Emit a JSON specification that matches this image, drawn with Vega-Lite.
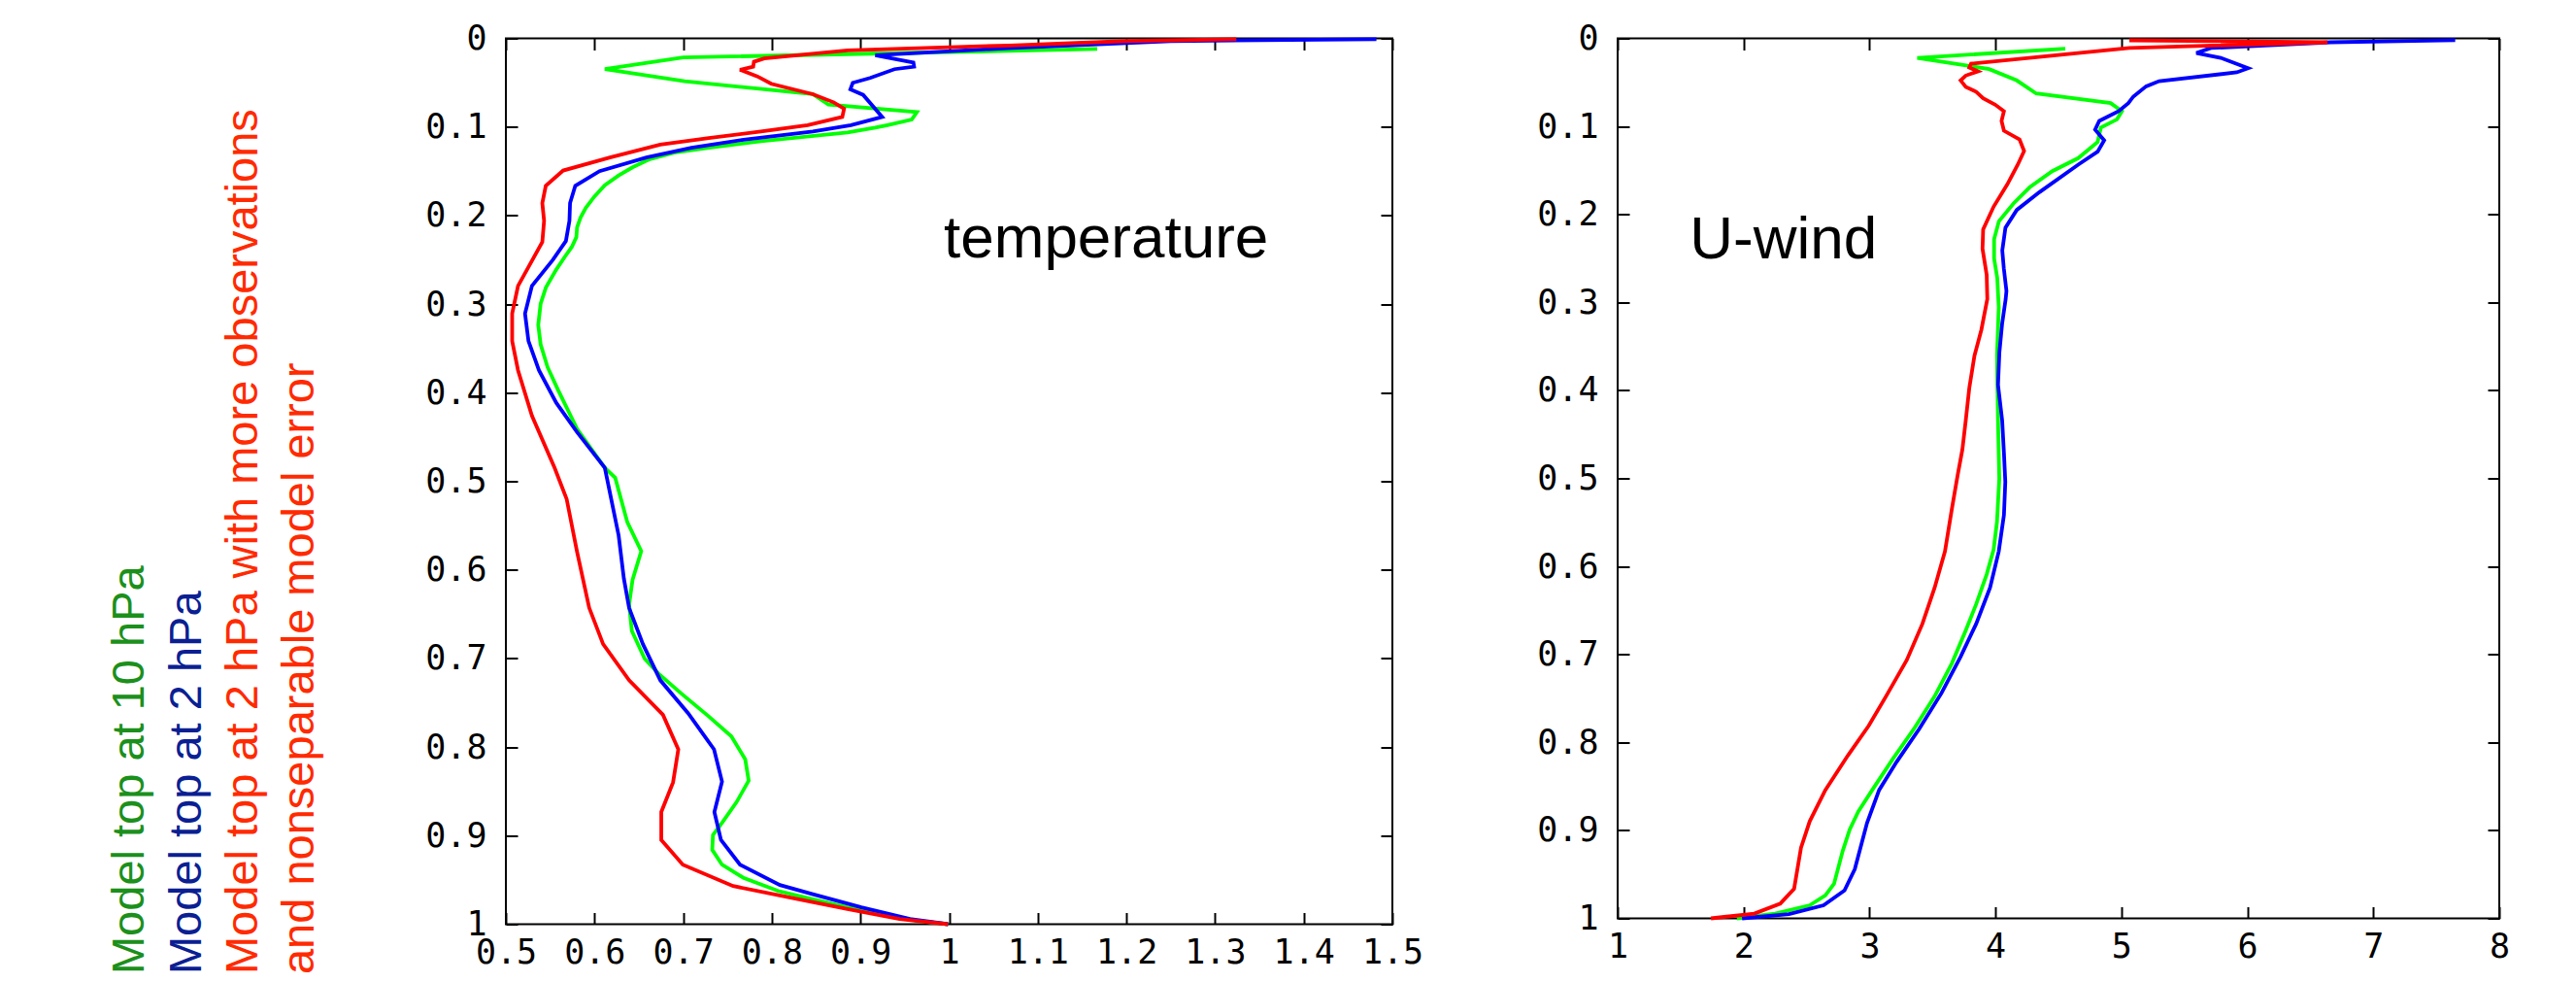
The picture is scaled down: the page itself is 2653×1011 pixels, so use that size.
{
  "$schema": "https://vega.github.io/schema/vega-lite/v6.json",
  "autosize": {"type": "none"},
  "padding": {"left": 521, "top": 39.5, "right": 2132, "bottom": 971.5},
  "bounds": "flush",
  "spacing": 232,
  "background": "white",
  "config": {
    "view": {"stroke": "black", "strokeWidth": 2},
    "axis": {
      "domain": false, "grid": false, "ticks": true, "tickSize": -12, "tickWidth": 2, "tickColor": "black",
      "labelFont": "DejaVu Sans Mono", "labelFontSize": 35, "labelColor": "black", "title": null,
      "labelFlush": false, "labelOverlap": false, "labelBound": false
    },
    "axisX": {"labelPadding": 52, "labelBaseline": "alphabetic", "labelDx": 11},
    "axisY": {"labelPadding": 32, "labelAlign": "right", "labelBaseline": "middle", "labelDy": 2}
  },
  "datasets": {
    "temp": [
      {"series": "10hPa", "v": 1.167, "p": 0.012}, {"series": "10hPa", "v": 0.70, "p": 0.0216}, {"series": "10hPa", "v": 0.6116, "p": 0.0348}, {"series": "10hPa", "v": 0.7016, "p": 0.0484}, {"series": "10hPa", "v": 0.8463, "p": 0.063}, {"series": "10hPa", "v": 0.8639, "p": 0.0748}, {"series": "10hPa", "v": 0.9637, "p": 0.0832}, {"series": "10hPa", "v": 0.9578, "p": 0.0917}, {"series": "10hPa", "v": 0.9304, "p": 0.0979}, {"series": "10hPa", "v": 0.9167, "p": 0.1008}, {"series": "10hPa", "v": 0.8854, "p": 0.1063}, {"series": "10hPa", "v": 0.7876, "p": 0.1162}, {"series": "10hPa", "v": 0.7289, "p": 0.1235}, {"series": "10hPa", "v": 0.6898, "p": 0.1291}, {"series": "10hPa", "v": 0.6624, "p": 0.1364}, {"series": "10hPa", "v": 0.6429, "p": 0.1456}, {"series": "10hPa", "v": 0.6272, "p": 0.1547}, {"series": "10hPa", "v": 0.6116, "p": 0.1657}, {"series": "10hPa", "v": 0.5998, "p": 0.1786}, {"series": "10hPa", "v": 0.5901, "p": 0.1914}, {"series": "10hPa", "v": 0.5842, "p": 0.2024}, {"series": "10hPa", "v": 0.5803, "p": 0.2134}, {"series": "10hPa", "v": 0.5795, "p": 0.2244}, {"series": "10hPa", "v": 0.5744, "p": 0.2354}, {"series": "10hPa", "v": 0.5666, "p": 0.2464}, {"series": "10hPa", "v": 0.5568, "p": 0.2611}, {"series": "10hPa", "v": 0.5451, "p": 0.2813}, {"series": "10hPa", "v": 0.5392, "p": 0.2996}, {"series": "10hPa", "v": 0.5365, "p": 0.3234}, {"series": "10hPa", "v": 0.5392, "p": 0.3454}, {"series": "10hPa", "v": 0.547, "p": 0.3711}, {"series": "10hPa", "v": 0.5588, "p": 0.3968}, {"series": "10hPa", "v": 0.5803, "p": 0.4408}, {"series": "10hPa", "v": 0.6116, "p": 0.4847}, {"series": "10hPa", "v": 0.6233, "p": 0.496}, {"series": "10hPa", "v": 0.637, "p": 0.5462}, {"series": "10hPa", "v": 0.6527, "p": 0.5789}, {"series": "10hPa", "v": 0.6429, "p": 0.6112}, {"series": "10hPa", "v": 0.639, "p": 0.6391}, {"series": "10hPa", "v": 0.6421, "p": 0.6689}, {"series": "10hPa", "v": 0.6566, "p": 0.7004}, {"series": "10hPa", "v": 0.6723, "p": 0.7172}, {"series": "10hPa", "v": 0.6977, "p": 0.7395}, {"series": "10hPa", "v": 0.7289, "p": 0.7655}, {"series": "10hPa", "v": 0.7543, "p": 0.7878}, {"series": "10hPa", "v": 0.77, "p": 0.8138}, {"series": "10hPa", "v": 0.7739, "p": 0.838}, {"series": "10hPa", "v": 0.7602, "p": 0.8622}, {"series": "10hPa", "v": 0.7446, "p": 0.8844}, {"series": "10hPa", "v": 0.7336, "p": 0.8993}, {"series": "10hPa", "v": 0.7328, "p": 0.916}, {"series": "10hPa", "v": 0.7438, "p": 0.9328}, {"series": "10hPa", "v": 0.768, "p": 0.9476}, {"series": "10hPa", "v": 0.8072, "p": 0.9625}, {"series": "10hPa", "v": 0.8463, "p": 0.9718}, {"series": "10hPa", "v": 0.8854, "p": 0.981}, {"series": "10hPa", "v": 0.9245, "p": 0.9884}, {"series": "10hPa", "v": 0.9637, "p": 0.996}, {"series": "10hPa", "v": 0.9988, "p": 1.0},
      {"series": "2hPa", "v": 1.482, "p": 0.001}, {"series": "2hPa", "v": 1.25, "p": 0.003}, {"series": "2hPa", "v": 1.068, "p": 0.011}, {"series": "2hPa", "v": 0.9167, "p": 0.019}, {"series": "2hPa", "v": 0.9597, "p": 0.0272}, {"series": "2hPa", "v": 0.9605, "p": 0.0319}, {"series": "2hPa", "v": 0.9383, "p": 0.0348}, {"series": "2hPa", "v": 0.9109, "p": 0.0447}, {"series": "2hPa", "v": 0.8913, "p": 0.0502}, {"series": "2hPa", "v": 0.8886, "p": 0.0575}, {"series": "2hPa", "v": 0.903, "p": 0.0638}, {"series": "2hPa", "v": 0.9245, "p": 0.0887}, {"series": "2hPa", "v": 0.8893, "p": 0.0979}, {"series": "2hPa", "v": 0.8463, "p": 0.1052}, {"series": "2hPa", "v": 0.7681, "p": 0.1144}, {"series": "2hPa", "v": 0.7094, "p": 0.1235}, {"series": "2hPa", "v": 0.6585, "p": 0.1345}, {"series": "2hPa", "v": 0.6057, "p": 0.1499}, {"series": "2hPa", "v": 0.5783, "p": 0.1664}, {"series": "2hPa", "v": 0.5724, "p": 0.1859}, {"series": "2hPa", "v": 0.5717, "p": 0.206}, {"series": "2hPa", "v": 0.5677, "p": 0.2288}, {"series": "2hPa", "v": 0.5529, "p": 0.2501}, {"series": "2hPa", "v": 0.5294, "p": 0.2794}, {"series": "2hPa", "v": 0.5216, "p": 0.3106}, {"series": "2hPa", "v": 0.5255, "p": 0.3417}, {"series": "2hPa", "v": 0.5373, "p": 0.3747}, {"series": "2hPa", "v": 0.5568, "p": 0.4114}, {"series": "2hPa", "v": 0.5803, "p": 0.4444}, {"series": "2hPa", "v": 0.6116, "p": 0.4847}, {"series": "2hPa", "v": 0.6272, "p": 0.5611}, {"series": "2hPa", "v": 0.6331, "p": 0.6098}, {"series": "2hPa", "v": 0.639, "p": 0.6429}, {"series": "2hPa", "v": 0.6546, "p": 0.6838}, {"series": "2hPa", "v": 0.6742, "p": 0.7246}, {"series": "2hPa", "v": 0.7055, "p": 0.7618}, {"series": "2hPa", "v": 0.7348, "p": 0.8026}, {"series": "2hPa", "v": 0.7438, "p": 0.839}, {"series": "2hPa", "v": 0.7352, "p": 0.8733}, {"series": "2hPa", "v": 0.7426, "p": 0.9048}, {"series": "2hPa", "v": 0.7641, "p": 0.9328}, {"series": "2hPa", "v": 0.8091, "p": 0.9558}, {"series": "2hPa", "v": 0.8463, "p": 0.9662}, {"series": "2hPa", "v": 0.901, "p": 0.981}, {"series": "2hPa", "v": 0.9558, "p": 0.9941}, {"series": "2hPa", "v": 0.9988, "p": 1.0},
      {"series": "2hPa_obs", "v": 1.324, "p": 0.001}, {"series": "2hPa_obs", "v": 1.2, "p": 0.003}, {"series": "2hPa_obs", "v": 1.068, "p": 0.008}, {"series": "2hPa_obs", "v": 0.8854, "p": 0.0135}, {"series": "2hPa_obs", "v": 0.7915, "p": 0.0227}, {"series": "2hPa_obs", "v": 0.7798, "p": 0.0264}, {"series": "2hPa_obs", "v": 0.779, "p": 0.0319}, {"series": "2hPa_obs", "v": 0.7641, "p": 0.0355}, {"series": "2hPa_obs", "v": 0.7837, "p": 0.0429}, {"series": "2hPa_obs", "v": 0.7993, "p": 0.0513}, {"series": "2hPa_obs", "v": 0.8463, "p": 0.063}, {"series": "2hPa_obs", "v": 0.8698, "p": 0.0722}, {"series": "2hPa_obs", "v": 0.8815, "p": 0.0795}, {"series": "2hPa_obs", "v": 0.8795, "p": 0.0887}, {"series": "2hPa_obs", "v": 0.8404, "p": 0.0979}, {"series": "2hPa_obs", "v": 0.7876, "p": 0.1052}, {"series": "2hPa_obs", "v": 0.7289, "p": 0.1125}, {"series": "2hPa_obs", "v": 0.6741, "p": 0.1199}, {"series": "2hPa_obs", "v": 0.6174, "p": 0.1345}, {"series": "2hPa_obs", "v": 0.5646, "p": 0.1492}, {"series": "2hPa_obs", "v": 0.545, "p": 0.1664}, {"series": "2hPa_obs", "v": 0.5411, "p": 0.1859}, {"series": "2hPa_obs", "v": 0.5431, "p": 0.206}, {"series": "2hPa_obs", "v": 0.5411, "p": 0.2299}, {"series": "2hPa_obs", "v": 0.5137, "p": 0.2794}, {"series": "2hPa_obs", "v": 0.5071, "p": 0.3106}, {"series": "2hPa_obs", "v": 0.5071, "p": 0.3417}, {"series": "2hPa_obs", "v": 0.5137, "p": 0.3747}, {"series": "2hPa_obs", "v": 0.5294, "p": 0.4261}, {"series": "2hPa_obs", "v": 0.5549, "p": 0.4847}, {"series": "2hPa_obs", "v": 0.5686, "p": 0.5202}, {"series": "2hPa_obs", "v": 0.5803, "p": 0.5796}, {"series": "2hPa_obs", "v": 0.594, "p": 0.6429}, {"series": "2hPa_obs", "v": 0.6097, "p": 0.6838}, {"series": "2hPa_obs", "v": 0.639, "p": 0.7246}, {"series": "2hPa_obs", "v": 0.6772, "p": 0.7636}, {"series": "2hPa_obs", "v": 0.6945, "p": 0.8026}, {"series": "2hPa_obs", "v": 0.6886, "p": 0.8398}, {"series": "2hPa_obs", "v": 0.6753, "p": 0.8733}, {"series": "2hPa_obs", "v": 0.6753, "p": 0.9048}, {"series": "2hPa_obs", "v": 0.6996, "p": 0.9328}, {"series": "2hPa_obs", "v": 0.7563, "p": 0.9569}, {"series": "2hPa_obs", "v": 0.8306, "p": 0.9718}, {"series": "2hPa_obs", "v": 0.8854, "p": 0.9828}, {"series": "2hPa_obs", "v": 0.9441, "p": 0.9941}, {"series": "2hPa_obs", "v": 0.9988, "p": 1.0}
    ],
    "wind": [
      {"series": "10hPa", "v": 4.554, "p": 0.0118}, {"series": "10hPa", "v": 3.379, "p": 0.0221}, {"series": "10hPa", "v": 3.792, "p": 0.0313}, {"series": "10hPa", "v": 3.95, "p": 0.035}, {"series": "10hPa", "v": 4.169, "p": 0.0478}, {"series": "10hPa", "v": 4.323, "p": 0.0626}, {"series": "10hPa", "v": 4.914, "p": 0.0736}, {"series": "10hPa", "v": 5.004, "p": 0.0828}, {"series": "10hPa", "v": 4.965, "p": 0.092}, {"series": "10hPa", "v": 4.837, "p": 0.1012}, {"series": "10hPa", "v": 4.811, "p": 0.1177}, {"series": "10hPa", "v": 4.657, "p": 0.1361}, {"series": "10hPa", "v": 4.451, "p": 0.1509}, {"series": "10hPa", "v": 4.272, "p": 0.1692}, {"series": "10hPa", "v": 4.143, "p": 0.1876}, {"series": "10hPa", "v": 4.027, "p": 0.2078}, {"series": "10hPa", "v": 3.989, "p": 0.2281}, {"series": "10hPa", "v": 3.989, "p": 0.2502}, {"series": "10hPa", "v": 4.014, "p": 0.2723}, {"series": "10hPa", "v": 4.026, "p": 0.3054}, {"series": "10hPa", "v": 4.012, "p": 0.3606}, {"series": "10hPa", "v": 4.02, "p": 0.4341}, {"series": "10hPa", "v": 4.03, "p": 0.5006}, {"series": "10hPa", "v": 4.012, "p": 0.5492}, {"series": "10hPa", "v": 3.985, "p": 0.581}, {"series": "10hPa", "v": 3.93, "p": 0.6091}, {"series": "10hPa", "v": 3.847, "p": 0.6428}, {"series": "10hPa", "v": 3.764, "p": 0.6727}, {"series": "10hPa", "v": 3.654, "p": 0.7101}, {"series": "10hPa", "v": 3.517, "p": 0.7476}, {"series": "10hPa", "v": 3.351, "p": 0.785}, {"series": "10hPa", "v": 3.186, "p": 0.8186}, {"series": "10hPa", "v": 3.021, "p": 0.8542}, {"series": "10hPa", "v": 2.911, "p": 0.8785}, {"series": "10hPa", "v": 2.842, "p": 0.8991}, {"series": "10hPa", "v": 2.787, "p": 0.9234}, {"series": "10hPa", "v": 2.718, "p": 0.9608}, {"series": "10hPa", "v": 2.649, "p": 0.9739}, {"series": "10hPa", "v": 2.525, "p": 0.9851}, {"series": "10hPa", "v": 2.25, "p": 0.9945}, {"series": "10hPa", "v": 1.947, "p": 1.0},
      {"series": "2hPa", "v": 7.65, "p": 0.002}, {"series": "2hPa", "v": 6.661, "p": 0.0044}, {"series": "2hPa", "v": 5.711, "p": 0.011}, {"series": "2hPa", "v": 5.595, "p": 0.0166}, {"series": "2hPa", "v": 5.788, "p": 0.0221}, {"series": "2hPa", "v": 6.006, "p": 0.0339}, {"series": "2hPa", "v": 5.916, "p": 0.0386}, {"series": "2hPa", "v": 5.299, "p": 0.0486}, {"series": "2hPa", "v": 5.196, "p": 0.0545}, {"series": "2hPa", "v": 5.094, "p": 0.0662}, {"series": "2hPa", "v": 5.055, "p": 0.0736}, {"series": "2hPa", "v": 4.978, "p": 0.0828}, {"series": "2hPa", "v": 4.824, "p": 0.0938}, {"series": "2hPa", "v": 4.791, "p": 0.1038}, {"series": "2hPa", "v": 4.863, "p": 0.1159}, {"series": "2hPa", "v": 4.811, "p": 0.1288}, {"series": "2hPa", "v": 4.657, "p": 0.1435}, {"series": "2hPa", "v": 4.349, "p": 0.1748}, {"series": "2hPa", "v": 4.169, "p": 0.195}, {"series": "2hPa", "v": 4.079, "p": 0.2152}, {"series": "2hPa", "v": 4.054, "p": 0.241}, {"series": "2hPa", "v": 4.066, "p": 0.2612}, {"series": "2hPa", "v": 4.087, "p": 0.287}, {"series": "2hPa", "v": 4.081, "p": 0.2962}, {"series": "2hPa", "v": 4.053, "p": 0.3238}, {"series": "2hPa", "v": 4.031, "p": 0.3569}, {"series": "2hPa", "v": 4.02, "p": 0.3937}, {"series": "2hPa", "v": 4.053, "p": 0.4341}, {"series": "2hPa", "v": 4.067, "p": 0.4709}, {"series": "2hPa", "v": 4.078, "p": 0.504}, {"series": "2hPa", "v": 4.067, "p": 0.5418}, {"series": "2hPa", "v": 4.026, "p": 0.5829}, {"series": "2hPa", "v": 3.957, "p": 0.6241}, {"series": "2hPa", "v": 3.847, "p": 0.6652}, {"series": "2hPa", "v": 3.723, "p": 0.7027}, {"series": "2hPa", "v": 3.572, "p": 0.7438}, {"series": "2hPa", "v": 3.393, "p": 0.785}, {"series": "2hPa", "v": 3.214, "p": 0.8224}, {"series": "2hPa", "v": 3.076, "p": 0.8542}, {"series": "2hPa", "v": 2.98, "p": 0.8916}, {"series": "2hPa", "v": 2.883, "p": 0.944}, {"series": "2hPa", "v": 2.801, "p": 0.9683}, {"series": "2hPa", "v": 2.635, "p": 0.9851}, {"series": "2hPa", "v": 2.36, "p": 0.9952}, {"series": "2hPa", "v": 1.988, "p": 1.0},
      {"series": "2hPa_obs", "v": 5.063, "p": 0.0022}, {"series": "2hPa_obs", "v": 6.636, "p": 0.0044}, {"series": "2hPa_obs", "v": 5.063, "p": 0.011}, {"series": "2hPa_obs", "v": 4.5, "p": 0.019}, {"series": "2hPa_obs", "v": 3.806, "p": 0.0287}, {"series": "2hPa_obs", "v": 3.792, "p": 0.0331}, {"series": "2hPa_obs", "v": 3.861, "p": 0.0375}, {"series": "2hPa_obs", "v": 3.764, "p": 0.0423}, {"series": "2hPa_obs", "v": 3.723, "p": 0.0478}, {"series": "2hPa_obs", "v": 3.764, "p": 0.0552}, {"series": "2hPa_obs", "v": 3.847, "p": 0.0607}, {"series": "2hPa_obs", "v": 3.902, "p": 0.0681}, {"series": "2hPa_obs", "v": 3.998, "p": 0.0754}, {"series": "2hPa_obs", "v": 4.067, "p": 0.0828}, {"series": "2hPa_obs", "v": 4.048, "p": 0.0938}, {"series": "2hPa_obs", "v": 4.067, "p": 0.1049}, {"series": "2hPa_obs", "v": 4.191, "p": 0.1148}, {"series": "2hPa_obs", "v": 4.227, "p": 0.128}, {"series": "2hPa_obs", "v": 4.177, "p": 0.1435}, {"series": "2hPa_obs", "v": 4.095, "p": 0.1656}, {"series": "2hPa_obs", "v": 3.985, "p": 0.1913}, {"series": "2hPa_obs", "v": 3.902, "p": 0.2171}, {"series": "2hPa_obs", "v": 3.897, "p": 0.2391}, {"series": "2hPa_obs", "v": 3.93, "p": 0.2686}, {"series": "2hPa_obs", "v": 3.935, "p": 0.2962}, {"series": "2hPa_obs", "v": 3.888, "p": 0.3311}, {"series": "2hPa_obs", "v": 3.833, "p": 0.3606}, {"series": "2hPa_obs", "v": 3.792, "p": 0.3974}, {"series": "2hPa_obs", "v": 3.764, "p": 0.4341}, {"series": "2hPa_obs", "v": 3.737, "p": 0.4673}, {"series": "2hPa_obs", "v": 3.7, "p": 0.496}, {"series": "2hPa_obs", "v": 3.654, "p": 0.5343}, {"series": "2hPa_obs", "v": 3.599, "p": 0.5829}, {"series": "2hPa_obs", "v": 3.517, "p": 0.6241}, {"series": "2hPa_obs", "v": 3.42, "p": 0.6652}, {"series": "2hPa_obs", "v": 3.296, "p": 0.7064}, {"series": "2hPa_obs", "v": 3.131, "p": 0.7476}, {"series": "2hPa_obs", "v": 2.993, "p": 0.7812}, {"series": "2hPa_obs", "v": 2.828, "p": 0.8149}, {"series": "2hPa_obs", "v": 2.649, "p": 0.8542}, {"series": "2hPa_obs", "v": 2.525, "p": 0.8897}, {"series": "2hPa_obs", "v": 2.456, "p": 0.9197}, {"series": "2hPa_obs", "v": 2.401, "p": 0.9664}, {"series": "2hPa_obs", "v": 2.291, "p": 0.9832}, {"series": "2hPa_obs", "v": 2.085, "p": 0.9945}, {"series": "2hPa_obs", "v": 1.741, "p": 1.0}
    ],
    "legend": [
      {"label": "Model top at 10 hPa", "who": "10hPa", "v": 0.0918, "p": 1.0565},
      {"label": "Model top at 2 hPa", "who": "2hPa", "v": 0.1558, "p": 1.0565},
      {"label": "Model top at 2 hPa with more observations", "who": "2hPa_obs", "v": 0.2196, "p": 1.0565},
      {"label": "and nonseparable model error", "who": "2hPa_obs", "v": 0.2835, "p": 1.0565}
    ],
    "title1": [{"label": "temperature", "v": 0.994, "p": 0.2473}],
    "title2": [{"label": "U-wind", "v": 1.573, "p": 0.2502}]
  },
  "hconcat": [
    {
      "width": 913,
      "height": 912,
      "layer": [
        {
          "data": {"name": "temp"},
          "mark": {"type": "line", "strokeWidth": 3.8, "strokeJoin": "miter", "strokeMiterLimit": 3},
          "encoding": {
            "x": {"field": "v", "type": "quantitative", "scale": {"domain": [0.5, 1.5], "nice": false, "zero": false}, "axis": {"orient": "bottom", "values": [0.5, 0.6, 0.7, 0.8, 0.9, 1, 1.1, 1.2, 1.3, 1.4, 1.5], "format": "~g"}},
            "y": {"field": "p", "type": "quantitative", "scale": {"domain": [0, 1], "reverse": true, "nice": false, "zero": false}, "axis": {"orient": "left", "values": [0, 0.1, 0.2, 0.3, 0.4, 0.5, 0.6, 0.7, 0.8, 0.9, 1], "format": "~g"}},
            "color": {"field": "series", "type": "nominal", "scale": {"domain": ["10hPa", "2hPa", "2hPa_obs"], "range": ["#00ff00", "#0000ff", "#ff0000"]}, "legend": null},
            "order": {"value": null}
          }
        },
        {
          "data": {"name": "title1"},
          "mark": {"type": "text", "font": "Liberation Sans", "fontSize": 62, "align": "left", "baseline": "alphabetic", "color": "black"},
          "encoding": {
            "x": {"field": "v", "type": "quantitative", "scale": {"domain": [0.5, 1.5], "nice": false, "zero": false}, "axis": {"orient": "top", "labels": false, "values": [0.5, 0.6, 0.7, 0.8, 0.9, 1, 1.1, 1.2, 1.3, 1.4, 1.5]}},
            "y": {"field": "p", "type": "quantitative", "scale": {"domain": [0, 1], "reverse": true, "nice": false, "zero": false}, "axis": {"orient": "right", "labels": false, "values": [0, 0.1, 0.2, 0.3, 0.4, 0.5, 0.6, 0.7, 0.8, 0.9, 1]}},
            "text": {"field": "label"}
          }
        },
        {
          "data": {"name": "legend"},
          "mark": {"type": "text", "font": "Liberation Sans", "fontSize": 47, "align": "left", "baseline": "alphabetic", "angle": 270},
          "encoding": {
            "x": {"field": "v", "type": "quantitative", "scale": {"domain": [0.5, 1.5], "nice": false, "zero": false}, "axis": null},
            "y": {"field": "p", "type": "quantitative", "scale": {"domain": [0, 1], "reverse": true, "nice": false, "zero": false}, "axis": null},
            "color": {"field": "who", "type": "nominal", "scale": {"domain": ["10hPa", "2hPa", "2hPa_obs"], "range": ["#1b901b", "#0b1f93", "#ff2a00"]}, "legend": null},
            "text": {"field": "label"}
          }
        }
      ],
      "resolve": {"axis": {"x": "independent", "y": "independent"}, "scale": {"color": "independent"}}
    },
    {
      "width": 908,
      "height": 906,
      "layer": [
        {
          "data": {"name": "wind"},
          "mark": {"type": "line", "strokeWidth": 3.8, "strokeJoin": "miter", "strokeMiterLimit": 3},
          "encoding": {
            "x": {"field": "v", "type": "quantitative", "scale": {"domain": [1, 8], "nice": false, "zero": false}, "axis": {"orient": "bottom", "values": [1, 2, 3, 4, 5, 6, 7, 8], "format": "~g"}},
            "y": {"field": "p", "type": "quantitative", "scale": {"domain": [0, 1], "reverse": true, "nice": false, "zero": false}, "axis": {"orient": "left", "values": [0, 0.1, 0.2, 0.3, 0.4, 0.5, 0.6, 0.7, 0.8, 0.9, 1], "format": "~g"}},
            "color": {"field": "series", "type": "nominal", "scale": {"domain": ["10hPa", "2hPa", "2hPa_obs"], "range": ["#00ff00", "#0000ff", "#ff0000"]}, "legend": null},
            "order": {"value": null}
          }
        },
        {
          "data": {"name": "title2"},
          "mark": {"type": "text", "font": "Liberation Sans", "fontSize": 62, "align": "left", "baseline": "alphabetic", "color": "black"},
          "encoding": {
            "x": {"field": "v", "type": "quantitative", "scale": {"domain": [1, 8], "nice": false, "zero": false}, "axis": {"orient": "top", "labels": false, "values": [1, 2, 3, 4, 5, 6, 7, 8]}},
            "y": {"field": "p", "type": "quantitative", "scale": {"domain": [0, 1], "reverse": true, "nice": false, "zero": false}, "axis": {"orient": "right", "labels": false, "values": [0, 0.1, 0.2, 0.3, 0.4, 0.5, 0.6, 0.7, 0.8, 0.9, 1]}},
            "text": {"field": "label"}
          }
        }
      ],
      "resolve": {"axis": {"x": "independent", "y": "independent"}}
    }
  ]
}
